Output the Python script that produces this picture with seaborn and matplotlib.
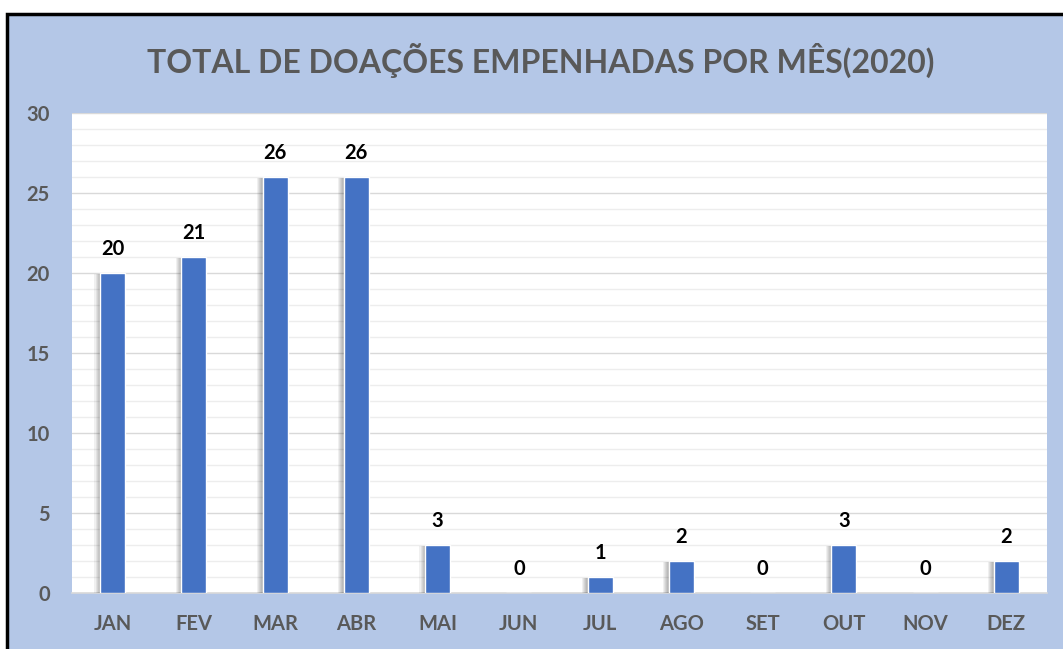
import matplotlib
matplotlib.use("Agg")
import matplotlib.pyplot as plt
import matplotlib.patheffects as pe
from matplotlib.patches import Rectangle
from matplotlib.ticker import MultipleLocator
import seaborn as sns
import pandas as pd

months = ["JAN", "FEV", "MAR", "ABR", "MAI", "JUN", "JUL", "AGO", "SET", "OUT", "NOV", "DEZ"]
donations = [20, 21, 26, 26, 3, 0, 1, 2, 0, 3, 0, 2]
title = "TOTAL DE DOAÇÕES EMPENHADAS POR MÊS(2020)"

sns.set_theme(style="white")
plt.rcParams["font.family"] = ["Lato", "DejaVu Sans"]

W, H = 1063, 649
fig = plt.figure(figsize=(W / 100, H / 100), dpi=100, facecolor="white")

# framed light-blue chart area, drawn beneath the axes
frame = Rectangle((7 / W, -0.05), 1.1, (H - 14) / H + 0.05,
                  transform=fig.transFigure, facecolor="#B4C7E7",
                  edgecolor="black", linewidth=2.5, zorder=-10)
fig.add_artist(frame)

ax = fig.add_axes([72 / W, (H - 593) / H, (1047 - 72) / W, (593 - 113) / H])
ax.set_zorder(1)
ax.set_facecolor("white")

df = pd.DataFrame({"mes": months, "total": donations})
sns.barplot(data=df, x="mes", y="total", color="#4472C4", width=0.31,
            saturation=1, ax=ax, zorder=3)

# soft shadow falling to the left of each bar
shadow = [pe.SimplePatchShadow(offset=(-k, -0.5), shadow_rgbFace="black", alpha=0.06)
          for k in (4.0, 3.25, 2.5, 1.75, 1.0)]
for bar in ax.patches:
    bar.set_path_effects(shadow + [pe.Normal()])

for i, v in enumerate(donations):
    ax.annotate(str(v), (i, v), xytext=(0, 10), textcoords="offset points",
                ha="center", va="bottom", fontsize=14.5, fontweight="bold",
                color="black", zorder=4)

ax.set_ylim(0, 30)
ax.set_xlim(-0.5, len(months) - 0.5)
ax.yaxis.set_major_locator(MultipleLocator(5))
ax.yaxis.set_minor_locator(MultipleLocator(1))
ax.grid(axis="y", which="major", color="#D9D9D9", linewidth=1.0, zorder=0)
ax.grid(axis="y", which="minor", color="#EDEDED", linewidth=1.0, zorder=0)
ax.set_axisbelow(True)

for side in ["top", "right", "left"]:
    ax.spines[side].set_visible(False)
ax.spines["bottom"].set_color("#D9D9D9")
ax.spines["bottom"].set_linewidth(1.2)

ax.tick_params(axis="both", which="both", length=0)
ax.tick_params(axis="y", pad=16, labelsize=14.5, labelcolor="#595959")
ax.tick_params(axis="x", pad=15, labelsize=14.5, labelcolor="#595959")
for lbl in ax.get_xticklabels() + ax.get_yticklabels():
    lbl.set_fontweight("bold")
ax.set_xlabel("")
ax.set_ylabel("")

fig.text(541 / W, 1 - 60 / H, title, ha="center", va="center",
         fontsize=23, fontweight="bold", color="#595959")

fig.savefig("out.png", dpi=100, facecolor=fig.get_facecolor())
